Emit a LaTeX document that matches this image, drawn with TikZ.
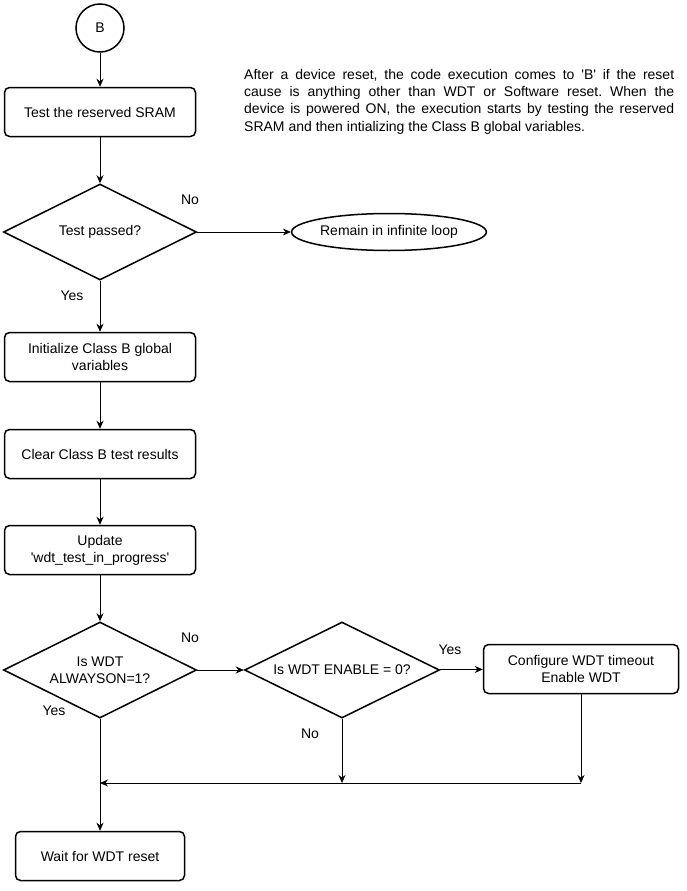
\documentclass[tikz,border=0pt]{standalone}
\usepackage{fontspec}
\setmainfont{Liberation Sans}
\usetikzlibrary{
arrows.meta,
calc,
shapes.geometric,
}

\tikzset{
  box/.style={draw, line width=1.5pt, rounded corners=5pt, minimum width=191pt, minimum height=49pt, align=center, inner sep=2pt},
  decision/.style={draw, diamond, line width=1.5pt, shape aspect=2, inner sep=0pt, minimum width=193pt, minimum height=96pt, align=center},
  flow/.style={-{Stealth[length=8pt, width=7pt]}, line width=0.8pt},
}

\begin{document}
\begin{tikzpicture}[x=1pt, y=-1pt, font=\fontsize{14}{17}\selectfont]
				\useasboundingbox (0,0) rectangle (687,891);
				\node[draw, circle, line width=1.5pt, minimum size=48pt, inner sep=0pt] (B) at (100,28) {B};
				\node[box] (sram) at (100,112) {Test the reserved SRAM};
				\node[decision] (passed) at (100,232) {Test passed?};
				\node[draw, ellipse, line width=1.5pt, minimum width=192pt, minimum height=37pt, inner sep=0pt] (loop) at (389,232) {Remain in infinite loop};
				\node[box] (init) at (100,357) {Initialize Class B global\\variables};
				\node[box] (clear) at (100,454) {Clear Class B test results};
				\node[box] (upd) at (100,550) {Update\\\textquotesingle wdt\_test\_in\_progress\textquotesingle};
				\node[decision] (aon) at (100,670) {Is WDT\\ALWAYSON=1?};
				\node[decision, minimum width=195pt] (ena) at (342,670) {Is WDT ENABLE = 0?};
				\node[box, minimum width=195pt] (cfg) at (581,669) {Configure WDT timeout\\Enable WDT};
				\node[box, minimum width=169pt] (wait) at (100,856) {Wait for WDT reset};
				\coordinate (join) at (100,783);
				% note beside the chart, broken as printed
				\node[anchor=north west, text width=430pt, align=justify, inner sep=0pt, font=\fontsize{14}{17.3}\selectfont\frenchspacing] (note) at (244,69) {After a device reset, the code execution comes to \textquotesingle B\textquotesingle{} if the reset\linebreak cause is anything other than WDT or Software reset. When the\linebreak device is powered ON, the execution starts by testing the reserved\linebreak SRAM and then intializing the Class B global variables.};
				\node (no1) at (190,200) {No};
				\node (yes1) at (72,296) {Yes};
				\node (no2) at (190,638) {No};
				\node (yes2) at (54,711) {Yes};
				\node (yes3) at (450,650) {Yes};
				\node (no3) at (310,734) {No};
				\draw[flow] (B) -- (sram);
				\draw[flow] (sram) -- (passed);
				\draw[flow] (passed) -- (loop);
				\draw[flow] (passed) -- (init);
				\draw[flow] (init) -- (clear);
				\draw[flow] (clear) -- (upd);
				\draw[flow] (upd) -- (aon);
				\draw[flow] (aon) -- (ena);
				\draw[flow] (ena) -- (cfg);
				\draw[flow] (aon) -- (wait);
				\draw[flow] (ena.south) -- (ena.south |- join);
				\draw[flow] (cfg.south) -- (cfg.south |- join);
				\draw[flow] (cfg.south |- join) -- (join);
			\end{tikzpicture}
\end{document}
